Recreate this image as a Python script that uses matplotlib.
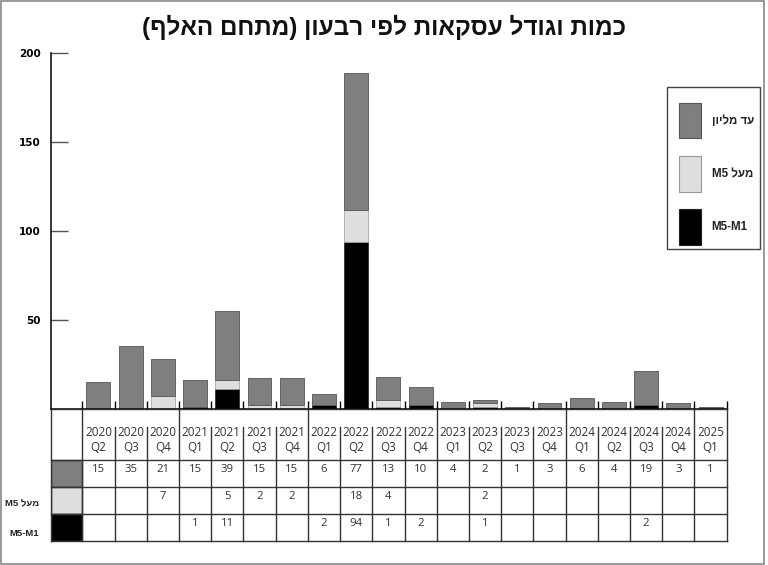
import matplotlib
matplotlib.use('Agg')
import matplotlib.pyplot as plt
from matplotlib.patches import Rectangle
import numpy as np

quarters = ['2020\nQ2', '2020\nQ3', '2020\nQ4', '2021\nQ1', '2021\nQ2', '2021\nQ3', '2021\nQ4',
            '2022\nQ1', '2022\nQ2', '2022\nQ3', '2022\nQ4', '2023\nQ1', '2023\nQ2', '2023\nQ3',
            '2023\nQ4', '2024\nQ1', '2024\nQ2', '2024\nQ3', '2024\nQ4', '2025\nQ1']
upto_1m = [15, 35, 21, 15, 39, 15, 15, 6, 77, 13, 10, 4, 2, 1, 3, 6, 4, 19, 3, 1]
over_5m = [0, 0, 7, 0, 5, 2, 2, 0, 18, 4, 0, 0, 2, 0, 0, 0, 0, 0, 0, 0]
m1_m5 = [0, 0, 0, 1, 11, 0, 0, 2, 94, 1, 2, 0, 1, 0, 0, 0, 0, 2, 0, 0]

title = 'כמות וגודל עסקאות לפי רבעון (מתחם האלף)'
lab_upto = 'עד מליון'
lab_over = 'מעל'
lab_mid = 'M5-M1'

C_GRAY = '#7f7f7f'
C_LIGHT = '#dedede'
C_BLACK = '#000000'


def visual(s):
    # matplotlib has no bidi, so flip the hebrew text by hand
    s = s[::-1]
    return s.replace('(', '\0').replace(')', '(').replace('\0', ')')


HEB = ['Liberation Sans', 'DejaVu Sans']
NUM = ['Open Sans', 'DejaVu Sans']

W, H = 768, 565


def rect(x0, y0, x1, y1):
    return [x0 / W, 1 - y1 / H, (x1 - x0) / W, (y1 - y0) / H]


fig = plt.figure(figsize=(W / 100, H / 100), dpi=100)

x_left = -1.481
ax = fig.add_axes(rect(50.7, 53, 726.7, 408.7))
tb = fig.add_axes(rect(50.7, 408.7, 726.7, 540.6))
ov = fig.add_axes([0, 0, 1, 1])
ov.set_xlim(0, W)
ov.set_ylim(H, 0)
ov.axis('off')

# stacked bars
x = np.arange(len(quarters))
b1 = np.array(m1_m5)
b2 = b1 + np.array(over_5m)
bw = 0.74
ax.bar(x, m1_m5, width=bw, color=C_BLACK, edgecolor='#222222', linewidth=0.5)
ax.bar(x, over_5m, bottom=b1, width=bw, color=C_LIGHT, edgecolor='#9a9a9a', linewidth=0.5)
ax.bar(x, upto_1m, bottom=b2, width=bw, color=C_GRAY, edgecolor='#555555', linewidth=0.6)

ax.set_xlim(x_left, len(quarters) - 0.5)
ax.set_ylim(0, 200)
ax.set_yticks([50, 100, 150, 200])
ax.tick_params(axis='y', direction='in', length=12, width=1, color='#555555',
               labelsize=7.5, pad=7)
for t in ax.get_yticklabels():
    t.set_fontweight('bold')
    t.set_family(['DejaVu Sans'])
ax.set_xticks(np.arange(-0.5, len(quarters), 1))
ax.tick_params(axis='x', direction='in', length=6, width=1, color='black', labelbottom=False)
ax.spines['top'].set_visible(False)
ax.spines['right'].set_visible(False)
ax.spines['left'].set_linewidth(1.1)
ax.spines['bottom'].set_linewidth(1.1)

# data table under the bars
rows = [51.5, 78.3, 105.1, 131.9]
n = len(quarters)
tb.set_xlim(x_left, n - 0.5)
tb.set_ylim(rows[-1], 0)
tb.axis('off')
lc = '#333333'
for y in [0] + rows:
    tb.plot([x_left, n - 0.5], [y, y], color=lc, lw=1, clip_on=False)
for k in range(n + 1):
    xx = k - 0.5
    full = k in (0, 3, 7, 11, 15, 19, 20)
    tb.plot([xx, xx], [0 if full else 18.5, rows[-1]], color=lc, lw=1, clip_on=False)
tb.plot([x_left, x_left], [0, rows[-1]], color=lc, lw=1, clip_on=False)

for i, c in enumerate([C_GRAY, C_LIGHT, C_BLACK]):
    tb.add_patch(Rectangle((x_left, rows[i]), -0.5 - x_left, rows[i + 1] - rows[i],
                           facecolor=c, edgecolor=lc, lw=1))

for k, q in enumerate(quarters):
    tb.text(k, 31, q, ha='center', va='center', fontsize=8.4, color='#333333',
            family=NUM, linespacing=1.2)
    for i, series in enumerate([upto_1m, over_5m, m1_m5]):
        if series[k]:
            tb.text(k, rows[i] + 9.5, str(series[k]), ha='center', va='center',
                    fontsize=8.2, color='#333333', family=NUM)

# row labels left of the table
ov.text(39.5, 504, 'M5 ' + visual(lab_over), ha='right', va='center', fontsize=6.8,
        fontweight='bold', family=HEB, color='#222222')
ov.text(39.5, 533, lab_mid, ha='right', va='center', fontsize=6.8,
        fontweight='bold', family=HEB, color='#222222')

# legend box
ov.add_patch(Rectangle((667.3, 87.3), 92.7, 162, fill=False, edgecolor='#444444', lw=1))
leg = [(C_GRAY, '#555555', visual(lab_upto), 102.7),
       (C_LIGHT, '#9a9a9a', 'M5 ' + visual(lab_over), 156),
       (C_BLACK, '#222222', lab_mid, 209.3)]
for fc, ec, txt, y0 in leg:
    ov.add_patch(Rectangle((679.3, y0), 21.4, 35.7, facecolor=fc, edgecolor=ec, lw=0.8))
    ov.text(711.7, y0 + 18, txt, ha='left', va='center', fontsize=8.3,
            fontweight='bold', family=HEB, color='#222222')

# outer frame and title
ov.add_patch(Rectangle((1, 1), 762.5, 563, fill=False, edgecolor='#888888', lw=1.2))
ov.text(384, 27, visual(title), ha='center', va='center', fontsize=17.5,
        fontweight='bold', family=HEB, color='#111111')

fig.savefig('out.png', dpi=100)
